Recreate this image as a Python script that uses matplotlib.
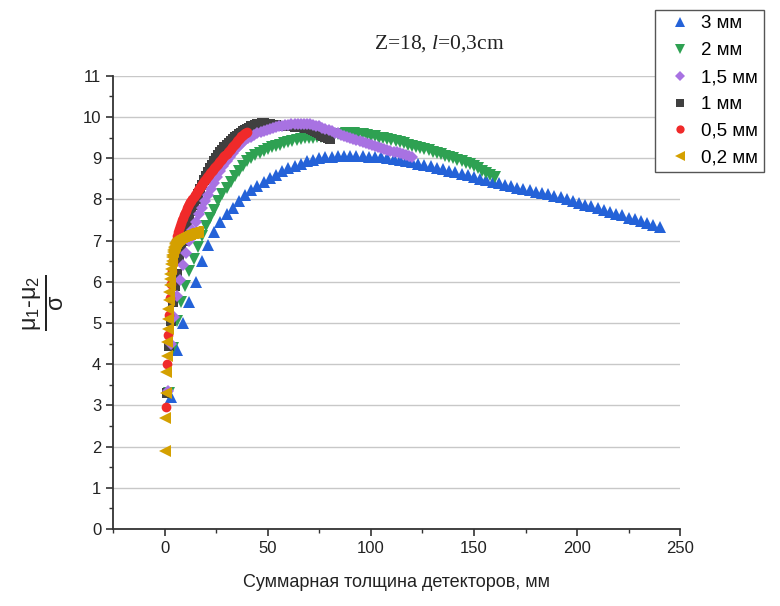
import numpy as np
import matplotlib
matplotlib.use('Agg')
import matplotlib.pyplot as plt
from matplotlib.ticker import MultipleLocator

# толщина одного детектора, мм
thickness = [3, 2, 1.5, 1, 0.5, 0.2]
labels = ['3 мм', '2 мм', '1,5 мм', '1 мм', '0,5 мм', '0,2 мм']
n_det = list(range(1, 81))  # число детекторов

y_3 = [3.2, 4.35, 5.0, 5.5, 6.0, 6.5, 6.9, 7.2, 7.45, 7.65,
       7.8, 7.95, 8.1, 8.22, 8.33, 8.43, 8.52, 8.6, 8.68, 8.75,
       8.81, 8.87, 8.92, 8.96, 9.0, 9.02, 9.04, 9.05, 9.06, 9.06,
       9.06, 9.05, 9.04, 9.03, 9.02, 9.0, 8.98, 8.96, 8.93, 8.9,
       8.87, 8.84, 8.81, 8.77, 8.73, 8.7, 8.66, 8.62, 8.58, 8.55,
       8.5, 8.47, 8.43, 8.4, 8.36, 8.32, 8.28, 8.25, 8.22, 8.19,
       8.15, 8.12, 8.08, 8.05, 8.0, 7.96, 7.92, 7.87, 7.83, 7.78,
       7.74, 7.7, 7.65, 7.61, 7.56, 7.52, 7.47, 7.42, 7.37, 7.32]
y_2 = [3.3, 4.4, 5.05, 5.5, 5.9, 6.25, 6.55, 6.85, 7.1, 7.35,
       7.55, 7.75, 7.95, 8.12, 8.27, 8.42, 8.56, 8.7, 8.82, 8.92,
       9.0, 9.07, 9.13, 9.18, 9.23, 9.27, 9.3, 9.33, 9.37, 9.4,
       9.42, 9.45, 9.47, 9.48, 9.49, 9.5, 9.51, 9.52, 9.54, 9.55,
       9.56, 9.58, 9.59, 9.6, 9.6, 9.6, 9.59, 9.58, 9.56, 9.55,
       9.53, 9.5, 9.48, 9.47, 9.44, 9.42, 9.39, 9.36, 9.33, 9.3,
       9.28, 9.25, 9.22, 9.2, 9.16, 9.13, 9.1, 9.06, 9.03, 9.0,
       8.96, 8.92, 8.89, 8.85, 8.8, 8.75, 8.7, 8.65, 8.6, 8.55]
y_15 = [3.35, 4.5, 5.15, 5.65, 6.05, 6.4, 6.7, 7.0, 7.25, 7.45,
        7.65, 7.8, 7.95, 8.1, 8.25, 8.4, 8.55, 8.68, 8.8, 8.92,
        9.03, 9.13, 9.22, 9.3, 9.37, 9.43, 9.48, 9.52, 9.56, 9.6,
        9.63, 9.66, 9.68, 9.7, 9.72, 9.75, 9.77, 9.79, 9.8, 9.81,
        9.82, 9.82, 9.83, 9.83, 9.83, 9.82, 9.82, 9.81, 9.79, 9.77,
        9.74, 9.71, 9.68, 9.65, 9.62, 9.6, 9.57, 9.55, 9.52, 9.5,
        9.47, 9.45, 9.42, 9.4, 9.37, 9.35, 9.32, 9.3, 9.27, 9.25,
        9.22, 9.2, 9.18, 9.16, 9.14, 9.12, 9.1, 9.08, 9.06, 9.04]
y_1 = [3.3, 4.45, 5.05, 5.5, 5.9, 6.2, 6.5, 6.75, 7.0, 7.2,
       7.4, 7.57, 7.72, 7.87, 8.0, 8.12, 8.24, 8.35, 8.46, 8.56,
       8.66, 8.75, 8.84, 8.92, 9.0, 9.07, 9.14, 9.2, 9.26, 9.32,
       9.37, 9.42, 9.47, 9.51, 9.55, 9.59, 9.62, 9.65, 9.68, 9.71,
       9.74, 9.77, 9.79, 9.81, 9.83, 9.84, 9.85, 9.85, 9.84, 9.83,
       9.82, 9.81, 9.8, 9.8, 9.79, 9.79, 9.78, 9.78, 9.78, 9.77,
       9.77, 9.77, 9.76, 9.76, 9.76, 9.75, 9.75, 9.74, 9.73, 9.72,
       9.71, 9.69, 9.67, 9.64, 9.61, 9.57, 9.54, 9.51, 9.48, 9.46]
y_05 = [2.95, 4.0, 4.7, 5.2, 5.6, 5.95, 6.25, 6.5, 6.7, 6.88,
        7.0, 7.1, 7.2, 7.28, 7.36, 7.43, 7.5, 7.56, 7.62, 7.68,
        7.73, 7.78, 7.83, 7.88, 7.93, 7.97, 8.02, 8.06, 8.1, 8.14,
        8.18, 8.22, 8.26, 8.3, 8.33, 8.37, 8.4, 8.44, 8.47, 8.5,
        8.54, 8.57, 8.6, 8.63, 8.66, 8.69, 8.72, 8.75, 8.78, 8.81,
        8.84, 8.87, 8.9, 8.93, 8.96, 8.99, 9.02, 9.05, 9.08, 9.11,
        9.14, 9.17, 9.2, 9.23, 9.26, 9.29, 9.32, 9.35, 9.38, 9.41,
        9.44, 9.47, 9.5, 9.53, 9.55, 9.57, 9.59, 9.61, 9.62, 9.63]
y_02 = [1.9, 2.7, 3.3, 3.8, 4.2, 4.55, 4.85, 5.1, 5.35, 5.55,
        5.75, 5.92, 6.07, 6.2, 6.32, 6.42, 6.51, 6.59, 6.66, 6.72,
        6.77, 6.81, 6.85, 6.88, 6.91, 6.93, 6.95, 6.97, 6.98, 7.0,
        7.01, 7.02, 7.03, 7.04, 7.05, 7.06, 7.06, 7.07, 7.08, 7.08,
        7.09, 7.09, 7.1, 7.1, 7.11, 7.11, 7.12, 7.12, 7.13, 7.13,
        7.14, 7.14, 7.14, 7.15, 7.15, 7.15, 7.16, 7.16, 7.16, 7.17,
        7.17, 7.17, 7.18, 7.18, 7.18, 7.18, 7.19, 7.19, 7.19, 7.19,
        7.2, 7.2, 7.2, 7.2, 7.21, 7.21, 7.21, 7.21, 7.22, 7.22]

series = [y_3, y_2, y_15, y_1, y_05, y_02]
markers = ['^', 'v', 'D', 's', 'o', '<']
msizes = [8, 8, 6.5, 6.5, 7, 8]
colors = ['#2462d8', '#2ea152', '#a872e2', '#404040', '#f02a2a', '#d4a000']
zorders = [3, 4, 6, 5, 7, 8]  # черные квадраты под фиолетовыми

plt.rcParams['mathtext.fontset'] = 'custom'
plt.rcParams['mathtext.rm'] = 'Liberation Serif'
plt.rcParams['mathtext.it'] = 'Liberation Serif:italic'
plt.rcParams['mathtext.sf'] = 'Liberation Sans'
plt.rcParams['font.family'] = ['Liberation Sans', 'DejaVu Sans']

fig = plt.figure(figsize=(7.8, 6.06), dpi=100)
ax = fig.add_axes([0.145, 0.127, 0.727, 0.748])

handles = []
for t, y, lab, m, ms, c, z in zip(thickness, series, labels, markers, msizes, colors, zorders):
    x = [t * n for n in n_det]
    h, = ax.plot(x, y, linestyle='none', marker=m, markersize=ms, color=c,
                 markeredgewidth=0, label=lab, zorder=z)
    handles.append(h)

ax.set_xlim(-25, 250)
ax.set_ylim(0, 11)
ax.xaxis.set_major_locator(MultipleLocator(50))
ax.xaxis.set_minor_locator(MultipleLocator(25))
ax.yaxis.set_major_locator(MultipleLocator(1))
ax.yaxis.set_minor_locator(MultipleLocator(0.5))
ax.grid(axis='y', color='#c8c8c8', linewidth=1.0, zorder=0)
ax.set_axisbelow(True)
for s in ['top', 'right']:
    ax.spines[s].set_visible(False)
for s in ['left', 'bottom']:
    ax.spines[s].set_color('#333333')
    ax.spines[s].set_linewidth(1.3)
ax.tick_params(which='major', direction='out', length=5, width=1.2, color='#333333',
               labelsize=12, labelcolor='#222222')
ax.tick_params(which='minor', direction='out', length=3, width=1.0, color='#333333')

ax.set_xlabel('Суммарная толщина детекторов, мм', fontsize=13, color='#222222', labelpad=13)
ax.set_ylabel('$\\frac{\\mathsf{\\mu_1‐\\mu_2}}{\\mathsf{\\sigma}}$', fontsize=24,
              color='#222222', labelpad=12)

fig.text(0.563, 0.928, r'Z=18, $\mathit{l}$=0,3cm', family='Liberation Serif',
         fontsize=15.5, ha='center', va='center', color='#222222')

leg = fig.legend(handles=handles, loc='upper left', bbox_to_anchor=(0.84, 0.984),
                 fontsize=13.5, frameon=True, fancybox=False, edgecolor='#555555',
                 framealpha=1, borderpad=0.3, labelspacing=0.52, handletextpad=0.15,
                 handlelength=2.0, borderaxespad=0, markerscale=0.85)
leg.get_frame().set_linewidth(1.0)

fig.savefig('out.png', dpi=100)
